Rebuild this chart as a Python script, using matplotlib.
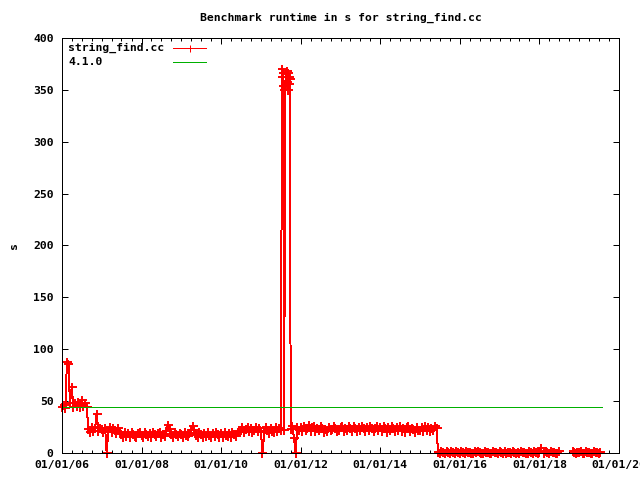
import numpy as np
import pandas as pd
import matplotlib
matplotlib.use("Agg")
import matplotlib.pyplot as plt
import matplotlib.dates as mdates

# ---- data (semi-monthly samples, values in s) ----
v2006 = [44, 46, 43, 88, 86, 48, 64, 44, 48, 45, 49, 44, 51, 45, 48, 44, 23, 20, 25, 21, 24, 38, 21, 24]
v2007 = [23, 20, 24, 0, 21, 25, 20, 24, 22, 19, 24, 20, 18, 15, 20, 16, 19, 15, 20, 18, 16, 15, 19, 20]
v2008 = [17, 15, 20, 18, 16, 19, 15, 20, 18, 16, 19, 20, 15, 18, 16, 21, 27, 23, 18, 15, 20, 18, 16, 19]
v2009 = [18, 15, 20, 17, 16, 19, 22, 26, 22, 17, 15, 20, 18, 15, 19, 16, 20, 17, 15, 19, 16, 20, 18, 15]
v2010 = [19, 15, 20, 17, 16, 19, 15, 20, 18, 16, 20, 21, 22, 25, 20, 23, 25, 21, 24, 20, 22, 25, 21, 24]
v2011 = [21, 0, 20, 25, 22, 19, 24, 21, 20, 25, 21, 24, 22, 362, 22, 365, 358, 362, 23, 26, 14, 0, 25, 22]
v2012 = [25, 21, 26, 22, 24, 27, 21, 25, 26, 21, 24, 22, 26, 24, 20, 23, 21, 25, 22, 23, 26, 24, 21, 22]
v2013 = [25, 26, 21, 24, 22, 26, 24, 21, 26, 24, 21, 25, 22, 26, 24, 21, 25, 22, 26, 24, 21, 24, 26, 22]
v2014 = [25, 21, 26, 24, 20, 25, 22, 26, 24, 21, 25, 22, 26, 21, 24, 20, 25, 26, 21, 24, 23, 20, 25, 22]
v2015 = [22, 25, 21, 26, 22, 25, 21, 24, 22, 26, 24, 1, 0, 2, 1, 0, 2, 1, 0, 2, 1, 0, 2, 1]
v2016 = [0, 2, 1, 0, 2, 1, 1, 0, 0, 2, 1, 2, 1, 0, 0, 2, 1, 1, 0, 0, 2, 1, 1, 0]
v2017 = [2, 1, 0, 2, 0, 1, 1, 0, 2, 1, 0, 1, 0, 2, 1, 1, 0, 0, 2, 1, 0, 2, 1, 0]
v2018 = [1, 5, np.nan, 0, 2, 1, 0, 2, 1, 1, 0, 0, 2, np.nan, np.nan, np.nan, np.nan, np.nan, np.nan, np.nan, 2, 1, 0, 1]
v2019 = [1, 2, 0, 0, 2, 1, 1, 0, 0, 2, 1, 1, 0, 1]

spike_dates = ["2011-07-18", "2011-07-22", "2011-07-26", "2011-07-29",
               "2011-08-20", "2011-08-25", "2011-09-05", "2011-09-10", "2011-09-20", "2011-09-25"]
spike_values = [370, 354, 366, 350, 355, 368, 350, 366, 356, 360]

release_label = "4.1.0"
release_value = 44
release_span = ["2006-01-01", "2019-08-01"]

series_label = "string_find.cc"
title = "Benchmark runtime in s for string_find.cc"

values = v2006 + v2007 + v2008 + v2009 + v2010 + v2011 + v2012 + v2013 + v2014 + v2015 + v2016 + v2017 + v2018 + v2019
dates = pd.date_range("2006-01-01", periods=len(values), freq="SMS")
df = pd.concat([pd.DataFrame({"d": dates, "v": values}),
                pd.DataFrame({"d": pd.to_datetime(spike_dates), "v": spike_values})]).sort_values("d")

# ---- figure ----
font = {"family": "DejaVu Sans Mono", "weight": "bold", "size": 8.2}
fig = plt.figure(figsize=(6.4, 4.8), dpi=100)
ax = fig.add_axes([62 / 640, 1 - 453 / 480, 557 / 640, 415 / 480])

px = 0.72
ax.plot(df["d"], df["v"], color="#ff0000", lw=px, marker="+", ms=9 * px, mew=1.4,
        antialiased=False, zorder=2, clip_on=False)
ax.plot(pd.to_datetime(release_span), [release_value, release_value], color="#00b000",
        lw=px, antialiased=False, zorder=3)

ax.set_xlim(pd.Timestamp("2006-01-01"), pd.Timestamp("2020-01-01"))
ax.set_ylim(0, 400)
ax.set_yticks(np.arange(0, 401, 50))
ax.xaxis.set_major_locator(mdates.YearLocator(2))
ax.xaxis.set_minor_locator(mdates.MonthLocator(bymonth=[1, 4, 7, 10]))
ax.xaxis.set_major_formatter(mdates.DateFormatter("%m/%d/%y"))
ax.tick_params(which="both", direction="in", top=True, right=True, width=px, color="black")
ax.tick_params(which="major", length=6 * px)
ax.tick_params(which="minor", length=3 * px)
ax.tick_params(axis="x", pad=5)
ax.tick_params(axis="y", pad=6)
for lab in ax.get_xticklabels() + ax.get_yticklabels():
    lab.set_fontproperties(matplotlib.font_manager.FontProperties(**font))
for s in ax.spines.values():
    s.set_linewidth(px)
    s.set_zorder(4)

fig.text(340.5 / 640, 1 - 18 / 480, title, ha="center", va="center", fontdict=font)
fig.text(14 / 640, 1 - 245.5 / 480, "s", ha="center", va="center", rotation=90, fontdict=font)

# legend (gnuplot style: text left, sample right)
x_text = (68 - 62) / 557
x0, x1 = (173 - 62) / 557, (206 - 62) / 557
rows = [(453 - 48) / 415, (453 - 62) / 415]
ax.text(x_text, rows[0], series_label, transform=ax.transAxes, va="center", ha="left", fontdict=font)
ax.text(x_text, rows[1], release_label, transform=ax.transAxes, va="center", ha="left", fontdict=font)
ax.plot([x0, x1], [rows[0]] * 2, transform=ax.transAxes, color="#ff0000", lw=px, antialiased=False)
ax.plot([(x0 + x1) / 2], [rows[0]], transform=ax.transAxes, color="#ff0000", marker="+",
        ms=7 * px, mew=px, antialiased=False)
ax.plot([x0, x1], [rows[1]] * 2, transform=ax.transAxes, color="#00b000", lw=px, antialiased=False)

fig.savefig("out.png", dpi=100)
